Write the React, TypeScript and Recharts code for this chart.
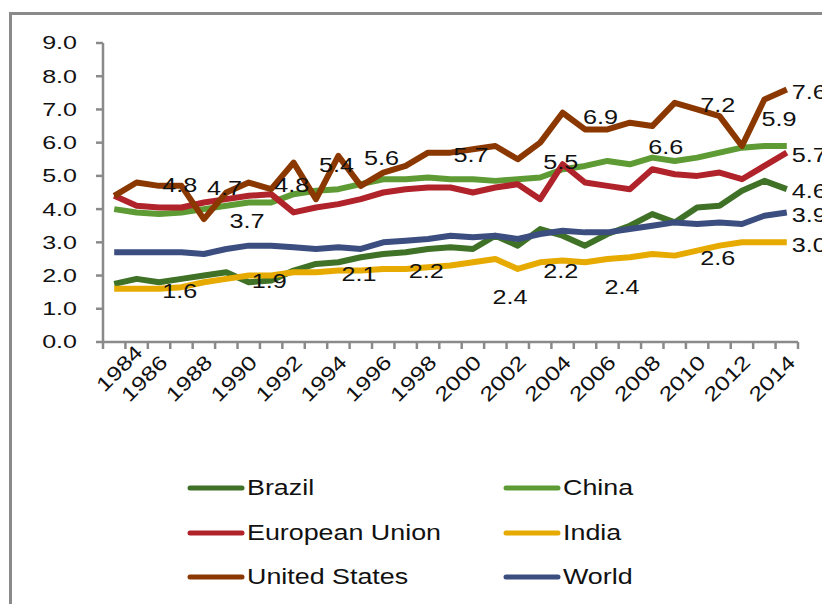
import { LineChart, Line, XAxis, YAxis, Legend, LabelList } from "recharts"

const years = [
  1984, 1985, 1986, 1987, 1988, 1989, 1990, 1991, 1992, 1993, 1994, 1995, 1996, 1997, 1998, 1999,
  2000, 2001, 2002, 2003, 2004, 2005, 2006, 2007, 2008, 2009, 2010, 2011, 2012, 2013, 2014,
]

const brazil = [
  1.75, 1.9, 1.8, 1.9, 2.0, 2.1, 1.8, 1.85, 2.15, 2.35, 2.4, 2.55, 2.65, 2.7, 2.8, 2.85,
  2.8, 3.2, 2.9, 3.4, 3.2, 2.9, 3.25, 3.5, 3.85, 3.6, 4.05, 4.1, 4.55, 4.85, 4.6,
]
const china = [
  4.0, 3.9, 3.85, 3.9, 4.0, 4.1, 4.2, 4.2, 4.45, 4.55, 4.6, 4.75, 4.9, 4.9, 4.95, 4.9,
  4.9, 4.85, 4.9, 4.95, 5.2, 5.3, 5.45, 5.35, 5.55, 5.45, 5.55, 5.7, 5.85, 5.9, 5.9,
]
const europeanUnion = [
  4.4, 4.1, 4.05, 4.05, 4.2, 4.3, 4.4, 4.45, 3.9, 4.05, 4.15, 4.3, 4.5, 4.6, 4.65, 4.65,
  4.5, 4.65, 4.75, 4.3, 5.35, 4.8, 4.7, 4.6, 5.2, 5.05, 5.0, 5.1, 4.9, 5.3, 5.7,
]
const india = [
  1.6, 1.6, 1.6, 1.65, 1.8, 1.9, 2.0, 2.0, 2.1, 2.1, 2.15, 2.15, 2.2, 2.2, 2.25, 2.3,
  2.4, 2.5, 2.2, 2.4, 2.45, 2.4, 2.5, 2.55, 2.65, 2.6, 2.75, 2.9, 3.0, 3.0, 3.0,
]
const unitedStates = [
  4.4, 4.8, 4.7, 4.7, 3.7, 4.5, 4.8, 4.6, 5.4, 4.3, 5.6, 4.7, 5.1, 5.3, 5.7, 5.7,
  5.8, 5.9, 5.5, 6.0, 6.9, 6.4, 6.4, 6.6, 6.5, 7.2, 7.0, 6.8, 5.9, 7.3, 7.6,
]
const world = [
  2.7, 2.7, 2.7, 2.7, 2.65, 2.8, 2.9, 2.9, 2.85, 2.8, 2.85, 2.8, 3.0, 3.05, 3.1, 3.2,
  3.15, 3.2, 3.1, 3.25, 3.35, 3.3, 3.3, 3.4, 3.5, 3.6, 3.55, 3.6, 3.55, 3.8, 3.9,
]

const yTicks = [0, 1, 2, 3, 4, 5, 6, 7, 8, 9]

// which points carry a value label
const labelledYears: Record<string, number[]> = {
  unitedStates: [1985, 1987, 1988, 1990, 1992, 1994, 1998, 2002, 2004, 2007, 2009, 2012, 2014],
  india: [1985, 1989, 1993, 1996, 2000, 2002, 2005, 2009, 2014],
  europeanUnion: [2014],
  brazil: [2014],
  world: [2014],
}

const series = [
  { key: "brazil", name: "Brazil", values: brazil, color: "#3f7126" },
  { key: "china", name: "China", values: china, color: "#5e9b34" },
  { key: "europeanUnion", name: "European Union", values: europeanUnion, color: "#b1232a" },
  { key: "india", name: "India", values: india, color: "#e6aa00" },
  { key: "unitedStates", name: "United States", values: unitedStates, color: "#8a3800" },
  { key: "world", name: "World", values: world, color: "#3c4e80" },
]

const data = years.map((year, i) => {
  const row: Record<string, number | string> = { year: String(year) }
  series.forEach((s) => {
    row[s.key] = s.values[i]
  })
  return row
})

const FONT = '"Liberation Sans", Arial, sans-serif'
const AXIS = "#8a8a8a"
const W = 822
const H = 596
const MARGIN = { top: 35, right: 32, left: 35, bottom: 202 }
const Y_AXIS_W = 60
const PLOT_W = W - MARGIN.left - MARGIN.right - Y_AXIS_W
const BAND = PLOT_W / years.length

// labels sit two categories to the right of their point, a few were dragged
const LABEL_SHIFT = 43
const nudges: Record<string, [number, number]> = {
  "unitedStates-2004": [-5, 2],
  "unitedStates-2007": [-7, 22],
  "unitedStates-2012": [-6, -29],
  "india-2000": [-6, 32],
  "india-2005": [-6, 22],
}

const makeLabel = (key: string) => (props: any) => {
  const { x, y, index, value } = props
  const year = years[index]
  if (!labelledYears[key]?.includes(year) || x == null) return null
  const last = index === years.length - 1
  const [ndx, ndy] = nudges[`${key}-${year}`] ?? [0, 0]
  const tx = last ? x + 5 : x + LABEL_SHIFT + ndx
  const ty = y + 2 + ndy
  return (
    <text
      key={`${key}-${year}`}
      transform={`translate(${tx},${ty}) scale(1.2,1)`}
      textAnchor={last ? "start" : "middle"}
      dominantBaseline="central"
      fontFamily={FONT}
      fontSize={21}
      fill="#111"
    >
      {Number(value).toFixed(1)}
    </text>
  )
}

function YearTick(props: any) {
  const { x, y, payload, index } = props
  const year = Number(payload.value)
  const half = BAND / 2
  // the first label is pushed inward so it stays right of the value axis
  const push = index === 0 ? 20 : 0
  return (
    <g>
      <line x1={x - half} x2={x - half} y1={y} y2={y + 7} stroke={AXIS} strokeWidth={2.5} />
      {index === years.length - 1 && (
        <line x1={x + half} x2={x + half} y1={y} y2={y + 7} stroke={AXIS} strokeWidth={2.5} />
      )}
      {year % 2 === 0 && (
        <text
          transform={`translate(${x + 5 + push},${y + 17 - push / 2}) rotate(-45) scale(1.25,1)`}
          textAnchor="end"
          dominantBaseline="central"
          fontFamily={FONT}
          fontSize={20}
          fill="#111"
        >
          {year}
        </text>
      )}
    </g>
  )
}

function ValueTick(props: any) {
  const { x, y, payload } = props
  return (
    <text
      transform={`translate(${x},${y}) scale(1.32,1)`}
      textAnchor="end"
      dominantBaseline="central"
      fontFamily={FONT}
      fontSize={19}
      fill="#111"
    >
      {Number(payload.value).toFixed(1)}
    </text>
  )
}

function SeriesLegend({ payload }: any) {
  return (
    <div style={{ display: "grid", gridTemplateColumns: "316px 220px", fontFamily: FONT }}>
      {(payload ?? []).map((entry: any) => (
        <div key={entry.value} style={{ display: "flex", alignItems: "center", height: 44.5 }}>
          <svg width={60} height={8}>
            <line x1={3} x2={55} y1={4} y2={4} stroke={entry.color} strokeWidth={5} strokeLinecap="round" />
          </svg>
          <span
            style={{
              display: "inline-block",
              fontSize: 22,
              color: "#111",
              transform: "scaleX(1.22)",
              transformOrigin: "left center",
              whiteSpace: "nowrap",
            }}
          >
            {entry.value}
          </span>
        </div>
      ))}
    </div>
  )
}

export default function App() {
  return (
    <div style={{ position: "relative", width: W, height: H, overflow: "hidden", background: "#fff" }}>
      <div
        style={{
          position: "absolute",
          left: 1,
          top: 4,
          width: 900,
          height: 700,
          border: `3px solid ${AXIS}`,
        }}
      />
      <LineChart width={W} height={H} data={data} margin={MARGIN}>
        <XAxis
          dataKey="year"
          interval={0}
          padding={{ left: BAND / 2, right: BAND / 2 }}
          tickSize={0}
          tickMargin={0}
          tickLine={false}
          height={60}
          axisLine={{ stroke: AXIS, strokeWidth: 2.5 }}
          tick={<YearTick />}
        />
        <YAxis
          domain={[0, 9]}
          ticks={yTicks}
          interval={0}
          width={Y_AXIS_W}
          tickSize={7}
          tickMargin={19}
          axisLine={{ stroke: AXIS, strokeWidth: 2.5 }}
          tickLine={{ stroke: AXIS, strokeWidth: 2.5 }}
          tick={<ValueTick />}
        />
        <Legend
          layout="horizontal"
          verticalAlign="middle"
          align="center"
          wrapperStyle={{ top: 458, left: 179, width: 560, height: 134 }}
          content={<SeriesLegend />}
        />
        {series.map((s) => (
          <Line
            key={s.key}
            dataKey={s.key}
            name={s.name}
            stroke={s.color}
            strokeWidth={6}
            strokeLinejoin="round"
            dot={false}
            activeDot={false}
            isAnimationActive={false}
          >
            <LabelList dataKey={s.key} content={makeLabel(s.key)} />
          </Line>
        ))}
      </LineChart>
    </div>
  )
}
